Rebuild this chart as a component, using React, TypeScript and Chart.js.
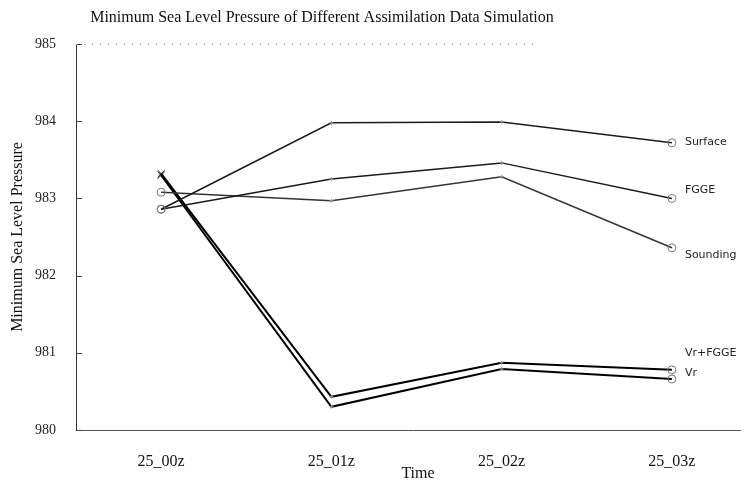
import React, { useEffect, useRef } from "react";
import { Chart, registerables } from "chart.js";

Chart.register(...registerables);

const categories = ["25_00z", "25_01z", "25_02z", "25_03z"];
const yTicks = [980, 981, 982, 983, 984, 985];
const chartTitle = "Minimum Sea Level Pressure of Different Assimilation Data Simulation";
const yTitle = "Minimum Sea Level Pressure";
const xTitle = "Time";

const surface = [982.86, 983.98, 983.99, 983.72];
const fgge = [982.86, 983.25, 983.46, 983.0];
const sounding = [983.08, 982.97, 983.28, 982.36];
const vrFgge = [983.32, 980.43, 980.87, 980.78];
const vr = [983.3, 980.3, 980.79, 980.66];

const seriesNames = ["Surface", "FGGE", "Sounding", "Vr+FGGE", "Vr"];
const seriesValues = [surface, fgge, sounding, vrFgge, vr];

const labelOffsets = [-1, -8, 7, -17, -6];

const decor = {
  id: "decor",
  afterDraw(chart: any) {
    const { ctx, chartArea, scales } = chart;
    const { left, top } = chartArea;
    const y = scales.y;
    ctx.save();
    // inner tick marks
    ctx.strokeStyle = "#444";
    ctx.lineWidth = 1;
    yTicks.forEach((t) => {
      const py = Math.round(y.getPixelForValue(t)) + 0.5;
      ctx.beginPath();
      ctx.moveTo(left, py);
      ctx.lineTo(left + 6, py);
      ctx.stroke();
    });
    // top dotted frame
    ctx.setLineDash([1, 7]);
    ctx.strokeStyle = "#888";
    ctx.beginPath();
    ctx.moveTo(left, top + 0.5);
    ctx.lineTo(535, top + 0.5);
    ctx.stroke();
    ctx.setLineDash([]);
    // end labels
    ctx.font = '11px "DejaVu Sans"';
    ctx.fillStyle = "#222";
    ctx.textBaseline = "middle";
    ctx.textAlign = "left";
    chart.data.datasets.forEach((ds: any, i: number) => {
      const meta = chart.getDatasetMeta(i);
      const pt = meta.data[meta.data.length - 1];
      ctx.fillText(ds.label, pt.x + 13, pt.y + labelOffsets[i]);
    });
    // titles
    ctx.fillStyle = "#111";
    ctx.textAlign = "center";
    ctx.font = '16px "Liberation Serif"';
    ctx.fillText(chartTitle, 322, 18);
    ctx.fillText(xTitle, 418, 474);
    ctx.translate(18, 237);
    ctx.rotate(-Math.PI / 2);
    ctx.fillText(yTitle, 0, 0);
    ctx.restore();
  },
};

export default function App() {
  const ref = useRef<HTMLCanvasElement | null>(null);
  useEffect(() => {
    document.body.style.margin = "0";
    if (!ref.current) return;
    const datasets = seriesValues.map((vals, i) => {
      const isVr = i >= 3;
      return {
        label: seriesNames[i],
        data: vals.map((v, k) => ({ x: k, y: v })),
        borderColor: isVr ? "#000" : i === 2 ? "#333" : "#1a1a1a",
        borderWidth: isVr ? 2 : 1.5,
        tension: 0,
        fill: false,
        pointStyle: [isVr ? "crossRot" : "circle", "cross", "cross", "circle"],
        pointRadius: [isVr ? 5 : 4, 2, 2, 4],
        pointBorderColor: [isVr ? "#111" : "#777", "#999", "#999", "#777"],
        pointBackgroundColor: "rgba(0,0,0,0)",
        pointBorderWidth: 1,
        clip: false as any,
      };
    });
    const chart = new Chart(ref.current, {
      type: "line",
      data: { datasets },
      options: {
        animation: false,
        responsive: false,
        layout: { padding: { top: 44, right: 8, left: 0, bottom: 0 } },
        plugins: { legend: { display: false }, title: { display: false }, tooltip: { enabled: false } },
        scales: {
          x: {
            type: "linear",
            min: -0.5,
            max: 3.4,
            afterBuildTicks: (s: any) => {
              s.ticks = categories.map((_, i) => ({ value: i }));
            },
            afterFit: (s: any) => {
              s.height = 50;
            },
            grid: { display: false, drawTicks: false },
            border: { display: true, color: "#555", width: 1, dash: [3, 2] },
            ticks: {
              autoSkip: false,
              maxRotation: 0,
              padding: 22,
              color: "#111",
              font: { family: "Liberation Serif", size: 16 },
              callback: (v: any) => categories[v as number] ?? "",
            },
          },
          y: {
            type: "linear",
            min: 980,
            max: 985,
            afterBuildTicks: (s: any) => {
              s.ticks = yTicks.map((v) => ({ value: v }));
            },
            afterFit: (s: any) => {
              s.width = 76;
            },
            grid: { display: false, drawTicks: false },
            border: { display: true, color: "#333", width: 1 },
            ticks: {
              padding: 20,
              color: "#222",
              font: { family: "Liberation Serif", size: 14 },
            },
          },
        },
      },
      plugins: [decor],
    });
    return () => chart.destroy();
  }, []);
  return (
    <div style={{ width: 748, height: 480 }}>
      <canvas ref={ref} width={748} height={480} />
    </div>
  );
}
